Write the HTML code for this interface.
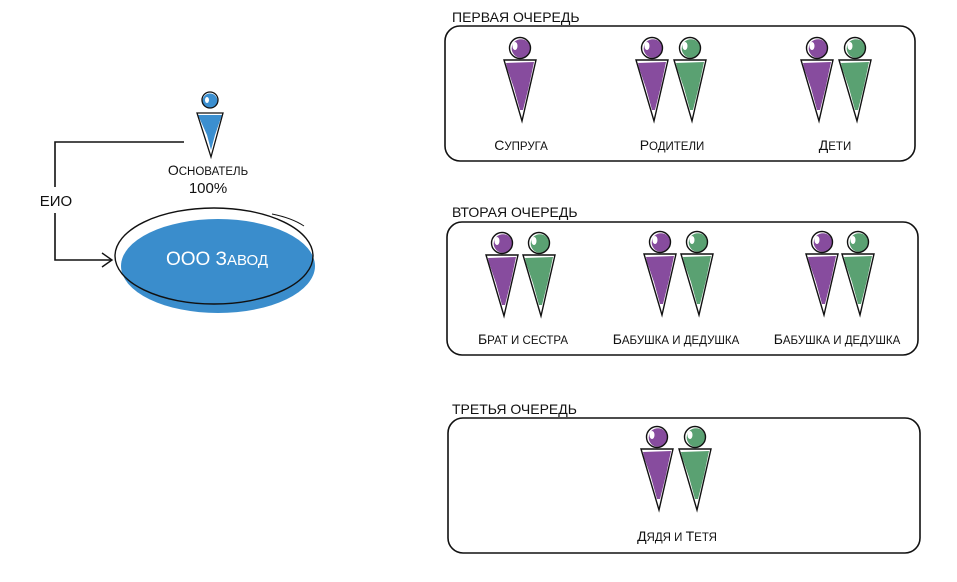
<!DOCTYPE html>
<html>
<head>
<meta charset="utf-8">
<style>
html,body{margin:0;padding:0;background:#fff;}
svg{display:block;}
text{font-family:"Liberation Sans","DejaVu Sans",sans-serif;fill:#111;}
</style>
</head>
<body>
<svg width="957" height="582" viewBox="0 0 957 582" xmlns="http://www.w3.org/2000/svg">
<defs>
  <g id="figP">
    <circle cx="1" cy="0.5" r="9.3" fill="#874C9E"/>
    <ellipse cx="-5" cy="-2" rx="2.5" ry="4" fill="#fff"/>
    <circle cx="0" cy="0" r="10.5" fill="none" stroke="#111" stroke-width="1.4"/>
    <polygon points="-14,15 14,14 9,38 3,62 0,62 -6,40 -13,20" fill="#874C9E"/>
    <polygon points="-16,12 16,12 2,73" fill="none" stroke="#111" stroke-width="1.4"/>
  </g>
  <g id="figG">
    <circle cx="1" cy="0.5" r="9.3" fill="#5AA172"/>
    <ellipse cx="-5" cy="-2" rx="2.5" ry="4" fill="#fff"/>
    <circle cx="0" cy="0" r="10.5" fill="none" stroke="#111" stroke-width="1.4"/>
    <polygon points="-14,15 14,14 9,38 3,62 0,62 -6,40 -13,20" fill="#5AA172"/>
    <polygon points="-16,12 16,12 2,73" fill="none" stroke="#111" stroke-width="1.4"/>
  </g>
</defs>

<!-- Left part: founder -->
<circle cx="210" cy="101" r="7.5" fill="#3B8FD0"/>
<ellipse cx="207" cy="100" rx="2" ry="3" fill="#fff"/>
<circle cx="210" cy="100" r="8" fill="none" stroke="#111" stroke-width="1.3"/>
<polygon points="198,115 222,115 215,135 211,150 207,135" fill="#3B8FD0"/>
<polygon points="197,113 223,113 211,157" fill="none" stroke="#111" stroke-width="1.3"/>

<text x="208" y="175" text-anchor="middle" font-size="14">О<tspan font-size="11.5">СНОВАТЕЛЬ</tspan></text>
<text x="208" y="193" text-anchor="middle" font-size="15">100%</text>

<!-- connector -->
<polyline points="184,142 55,142 55,187" fill="none" stroke="#111" stroke-width="1.6"/>
<polyline points="55,213 55,260 112,260" fill="none" stroke="#111" stroke-width="1.6"/>
<polyline points="102,253 112,260 102,267" fill="none" stroke="#111" stroke-width="1.4"/>
<text x="56" y="206" text-anchor="middle" font-size="15">ЕИО</text>

<!-- company ellipse -->
<ellipse cx="218" cy="266" rx="97" ry="47" fill="#3A8DCC"/>
<ellipse cx="214" cy="256" rx="99" ry="48" fill="none" stroke="#111" stroke-width="1.4"/>
<path d="M272 214 Q292 218 304 226" fill="none" stroke="#111" stroke-width="0.9"/>
<text x="217" y="265" text-anchor="middle" font-size="19" style="fill:#fff">ООО З<tspan font-size="15">АВОД</tspan></text>

<!-- Frame 1 -->
<text x="452" y="22" font-size="14">ПЕРВАЯ ОЧЕРЕДЬ</text>
<rect x="445" y="26" width="470" height="135" rx="15" ry="15" fill="none" stroke="#111" stroke-width="1.6"/>
<use href="#figP" x="520" y="48"/>
<use href="#figP" x="652" y="48"/>
<use href="#figG" x="690" y="48"/>
<use href="#figP" x="817" y="48"/>
<use href="#figG" x="855" y="48"/>
<text x="521" y="150" text-anchor="middle" font-size="14">С<tspan font-size="11.5">УПРУГА</tspan></text>
<text x="672" y="150" text-anchor="middle" font-size="14">Р<tspan font-size="11.5">ОДИТЕЛИ</tspan></text>
<text x="835" y="150" text-anchor="middle" font-size="14">Д<tspan font-size="11.5">ЕТИ</tspan></text>

<!-- Frame 2 -->
<text x="452" y="217" font-size="14">ВТОРАЯ ОЧЕРЕДЬ</text>
<rect x="447" y="222" width="471" height="133" rx="15" ry="15" fill="none" stroke="#111" stroke-width="1.6"/>
<use href="#figP" x="502" y="243"/>
<use href="#figG" x="539" y="243"/>
<use href="#figP" x="660" y="242"/>
<use href="#figG" x="697" y="242"/>
<use href="#figP" x="822" y="242"/>
<use href="#figG" x="858" y="242"/>
<text x="523" y="344" text-anchor="middle" font-size="14">Б<tspan font-size="11.5">РАТ И СЕСТРА</tspan></text>
<text x="676" y="344" text-anchor="middle" font-size="14">Б<tspan font-size="11.5">АБУШКА И ДЕДУШКА</tspan></text>
<text x="837" y="344" text-anchor="middle" font-size="14">Б<tspan font-size="11.5">АБУШКА И ДЕДУШКА</tspan></text>

<!-- Frame 3 -->
<text x="452" y="414" font-size="14">ТРЕТЬЯ ОЧЕРЕДЬ</text>
<rect x="448" y="418" width="472" height="135" rx="15" ry="15" fill="none" stroke="#111" stroke-width="1.6"/>
<use href="#figP" x="657" y="437"/>
<use href="#figG" x="695" y="437"/>
<text x="677" y="541" text-anchor="middle" font-size="14">Д<tspan font-size="11.5">ЯДЯ И </tspan>Т<tspan font-size="11.5">ЕТЯ</tspan></text>
</svg>
</body>
</html>
